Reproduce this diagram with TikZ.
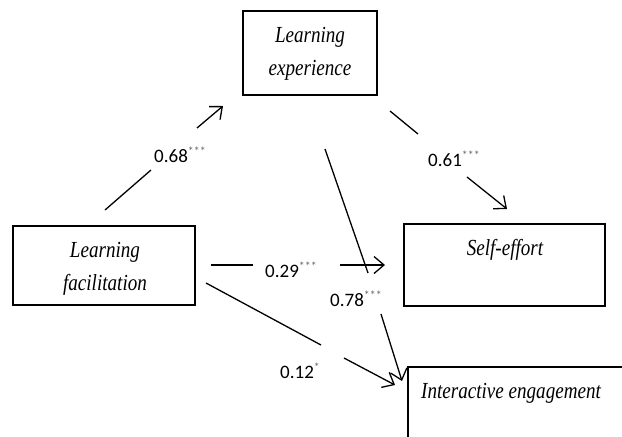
\documentclass[tikz,border=0pt]{standalone}
\usepackage{fontspec}
\setmainfont{Liberation Serif}
\newfontfamily\numfont{Carlito}
\newfontfamily\boxfont[FakeStretch=0.83]{Liberation Serif}
\usetikzlibrary{arrows.meta}
\newcommand\sigstars[1]{\raisebox{7pt}{\fontsize{12}{12}\selectfont\color{black!60}#1}}
\begin{document}
\begin{tikzpicture}[x=1pt,y=-1pt,
  box/.style={draw=black,line width=1.2pt,rectangle,inner sep=0pt},
  boxtext/.style={font=\boxfont\itshape\fontsize{23}{33}\selectfont,align=center,inner sep=0pt},
  coef/.style={font=\numfont\fontsize{19}{20}\selectfont,anchor=base west,inner sep=0pt},
  conn/.style={line width=1.3pt},
  arr/.style={line width=1.3pt,-{Straight Barb[length=10pt,width=17pt]}}
]
\useasboundingbox (0,0) rectangle (622,437);
\clip (0,0) rectangle (622,437);

% boxes
\node[box,minimum width=134pt,minimum height=84pt] (le) at (310,53) {};
\node[boxtext] (letext) at (310,53.5) {Learning\\experience};

\node[box,minimum width=182pt,minimum height=79pt] (lf) at (104,265.5) {};
\node[boxtext] (lftext) at (105,269) {Learning\\facilitation};

\node[box,minimum width=201pt,minimum height=82pt] (se) at (504.5,265) {};
\node[boxtext,anchor=base] (setext) at (505,255) {Self-effort};

\node[box,minimum width=232pt,minimum height=100pt] (ie) at (524,417) {};
\node[boxtext,anchor=base west] (ietext) at (421,398) {Interactive engagement};

% connector coordinates
\coordinate (a1s) at (105,210); \coordinate (a1g) at (151,170);
\coordinate (a1h) at (197,128); \coordinate (a1t) at (223,106);
\coordinate (a2s) at (390,111); \coordinate (a2g) at (418,134);
\coordinate (a2h) at (467,177); \coordinate (a2t) at (507,209);
\coordinate (a3s) at (211,265); \coordinate (a3g) at (253,265);
\coordinate (a3h) at (340,265); \coordinate (a3t) at (385,265);
\coordinate (a4s) at (325,149); \coordinate (a4g) at (368,273);
\coordinate (a4h) at (381,314); \coordinate (a4t) at (402,381);
\coordinate (a5s) at (206,283); \coordinate (a5g) at (321,345);
\coordinate (a5h) at (344,358); \coordinate (a5t) at (395,385);

% connectors
\draw[conn] (a1s) -- (a1g); \draw[arr] (a1h) -- (a1t);
\draw[conn] (a2s) -- (a2g); \draw[arr] (a2h) -- (a2t);
\draw[conn] (a3s) -- (a3g); \draw[arr] (a3h) -- (a3t);
\draw[conn] (a4s) -- (a4g); \draw[arr] (a4h) -- (a4t);
\draw[conn] (a5s) -- (a5g); \draw[arr] (a5h) -- (a5t);

% coefficients
\node[coef] (c1) at (154,162) {0.68\sigstars{***}};
\node[coef] (c2) at (428,166) {0.61\sigstars{***}};
\node[coef] (c3) at (265,277) {0.29\sigstars{***}};
\node[coef] (c4) at (330,306) {0.78\sigstars{***}};
\node[coef] (c5) at (280,378) {0.12\sigstars{*}};
\end{tikzpicture}
\end{document}
